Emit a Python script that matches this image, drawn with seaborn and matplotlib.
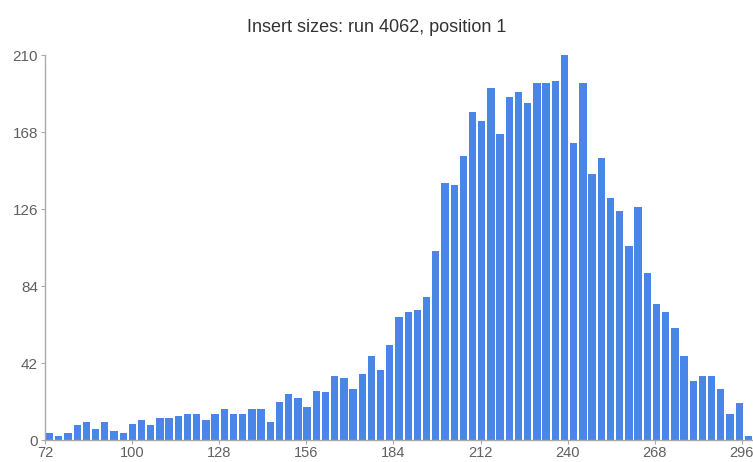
import numpy as np
import pandas as pd
import matplotlib
matplotlib.use("Agg")
import matplotlib.pyplot as plt
import seaborn as sns

# Read counts per insert-size bucket
counts = [
    4, 2, 4, 8, 10, 6, 10, 5, 4, 9,
    11, 8, 12, 12, 13, 14, 14, 11, 14, 17,
    14, 14, 17, 17, 10, 21, 25, 23, 18, 27,
    26, 35, 34, 28, 36, 46, 38, 52, 67, 70,
    71, 78, 103, 140, 139, 155, 179, 174, 192, 167,
    187, 190, 184, 195, 195, 196, 210, 162, 195, 145,
    154, 132, 125, 106, 127, 91, 74, 70, 61, 46,
    32, 35, 35, 28, 14, 20, 2,
]
size_min = 72
size_max = 299.6
x_ticks = [72, 100, 128, 156, 184, 212, 240, 268, 296]
y_ticks = [0, 42, 84, 126, 168, 210]
title = "Insert sizes: run 4062, position 1"

n = len(counts)
bucket = (size_max - size_min) / n
centers = size_min + bucket * (np.arange(n) + 0.5)
df = pd.DataFrame({"size": centers, "reads": counts})

sns.set_theme(style="white")
plt.rcParams["font.family"] = ["Liberation Sans", "DejaVu Sans"]

fig = plt.figure(figsize=(7.53, 4.62), dpi=100)
ax = fig.add_axes([0.0598, 0.0476, 0.9402, 0.833])

sns.barplot(data=df, x="size", y="reads", native_scale=True,
            color="#4a86e8", saturation=1, width=0.8, ax=ax,
            edgecolor="none", linewidth=0)

ax.set_xlim(size_min, size_max)
ax.set_ylim(0, 210)
ax.set_xticks(x_ticks)
ax.set_xticklabels([str(v) for v in x_ticks])
ax.set_yticks(y_ticks)
ax.set_yticklabels([str(v) for v in y_ticks])
ax.set_xlabel("")
ax.set_ylabel("")

for side in ("top", "right"):
    ax.spines[side].set_visible(False)
for side in ("left", "bottom"):
    ax.spines[side].set_color("#aaaaaa")
    ax.spines[side].set_linewidth(1.0)

ax.tick_params(axis="both", which="major", length=3, width=0.8,
               color="#aaaaaa", labelsize=10.5, labelcolor="#606060",
               direction="out")
ax.tick_params(axis="x", pad=1, bottom=True)
ax.tick_params(axis="y", pad=2, left=True, labelsize=11)

fig.text(0.5, 0.94, title, ha="center", va="center",
         fontsize=13, color="#333333")

fig.savefig("out.png", dpi=100)
